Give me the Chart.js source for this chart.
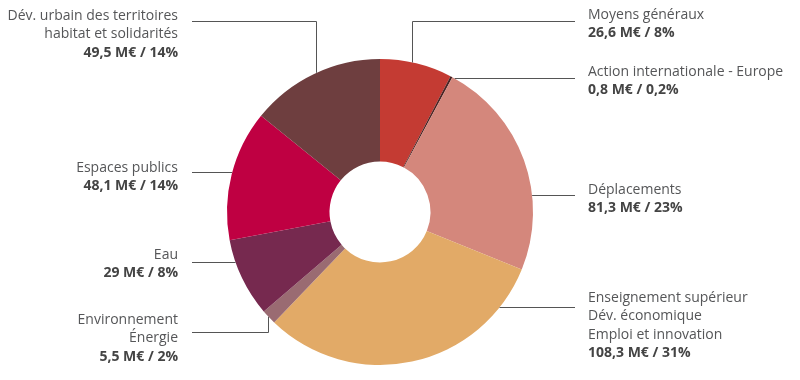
<!DOCTYPE html>
<html lang="fr">
<head>
<meta charset="utf-8">
<title>Répartition du budget</title>
<script src="https://cdn.jsdelivr.net/npm/chart.js@4.4.1/dist/chart.umd.min.js"></script>
<style>
  html, body { margin: 0; padding: 0; background: #fff; }
  #wrap { width: 800px; height: 380px; position: relative; }
</style>
</head>
<body>
<div id="wrap"><canvas id="budget"></canvas></div>
<script>
  // données (sens horaire depuis midi)
  const categories = [
    ['Moyens généraux'],
    ['Action internationale - Europe'],
    ['Déplacements'],
    ['Enseignement supérieur', 'Dév. économique', 'Emploi et innovation'],
    ['Environnement', 'Énergie'],
    ['Eau'],
    ['Espaces publics'],
    ['Dév. urbain des territoires', 'habitat et solidarités']
  ];
  const valeurs = [26.6, 0.8, 81.3, 108.3, 5.5, 29, 48.1, 49.5];
  const pourcentages = ['8%', '0,2%', '23%', '31%', '2%', '8%', '14%', '14%'];

  const couleurs = ['#c43b33', '#4a2424', '#d4877c', '#e2aa67', '#9a6b72', '#76294f', '#bf0042', '#6e3e3f'];

  // placement des étiquettes (côté, hauteur du trait, coude éventuel, 1re ligne de texte)
  const cotes = ['d', 'd', 'd', 'd', 'g', 'g', 'g', 'g'];
  const traitY = [21, 78, 195, 307, 332, 262, 172, 21];
  const coudeX = [412, null, null, null, 268, null, null, 316];
  const texteY = [15, 72, 190, 298, 320, 255, 168, 16];

  const fmt = v => String(v).replace('.', ',');

  const etiquettes = {
    id: 'etiquettes',
    afterDraw(chart) {
      const ctx = chart.ctx;
      const arc = chart.getDatasetMeta(0).data[0];
      const cx = arc.x, cy = arc.y, R = arc.outerRadius;

      ctx.save();
      ctx.strokeStyle = '#555';
      ctx.lineWidth = 1;
      ctx.textBaseline = 'middle';

      categories.forEach((lignes, i) => {
        const droite = cotes[i] === 'd';
        const y = traitY[i] + 0.5;
        const bout = droite ? 575 : 192;

        ctx.beginPath();
        if (coudeX[i] !== null) {
          // trait coudé : vertical jusqu'au bord de l'anneau
          const x = coudeX[i] + 0.5;
          const dx = x - cx;
          const h = Math.sqrt(R * R - dx * dx);
          const yBord = cy + (traitY[i] < cy ? -h : h);
          ctx.moveTo(bout, y);
          ctx.lineTo(x, y);
          ctx.lineTo(x, yBord);
        } else {
          const dy = y - cy;
          const w = Math.sqrt(R * R - dy * dy);
          ctx.moveTo(bout, y);
          ctx.lineTo(cx + (droite ? w : -w), y);
        }
        ctx.stroke();

        ctx.textAlign = droite ? 'left' : 'right';
        const tx = droite ? 588 : 178;
        let ty = texteY[i];
        ctx.font = '14px "Open Sans", sans-serif';
        ctx.fillStyle = '#555658';
        lignes.forEach(l => {
          ctx.fillText(l, tx, ty);
          ty += 18.5;
        });
        ctx.font = 'bold 14px "Open Sans", sans-serif';
        ctx.fillStyle = '#444';
        ctx.fillText(`${fmt(valeurs[i])} M€ / ${pourcentages[i]}`, tx, ty);
      });
      ctx.restore();
    }
  };

  new Chart(document.getElementById('budget'), {
    type: 'doughnut',
    data: {
      labels: categories.map(c => c.join(' ')),
      datasets: [{
        data: valeurs,
        backgroundColor: couleurs,
        borderWidth: 0
      }]
    },
    options: {
      responsive: true,
      maintainAspectRatio: false,
      animation: false,
      cutout: '33%',
      layout: { padding: { top: 59, bottom: 15, left: 227, right: 267 } },
      plugins: {
        legend: { display: false },
        tooltip: { enabled: false }
      }
    },
    plugins: [etiquettes]
  });
</script>
</body>
</html>
